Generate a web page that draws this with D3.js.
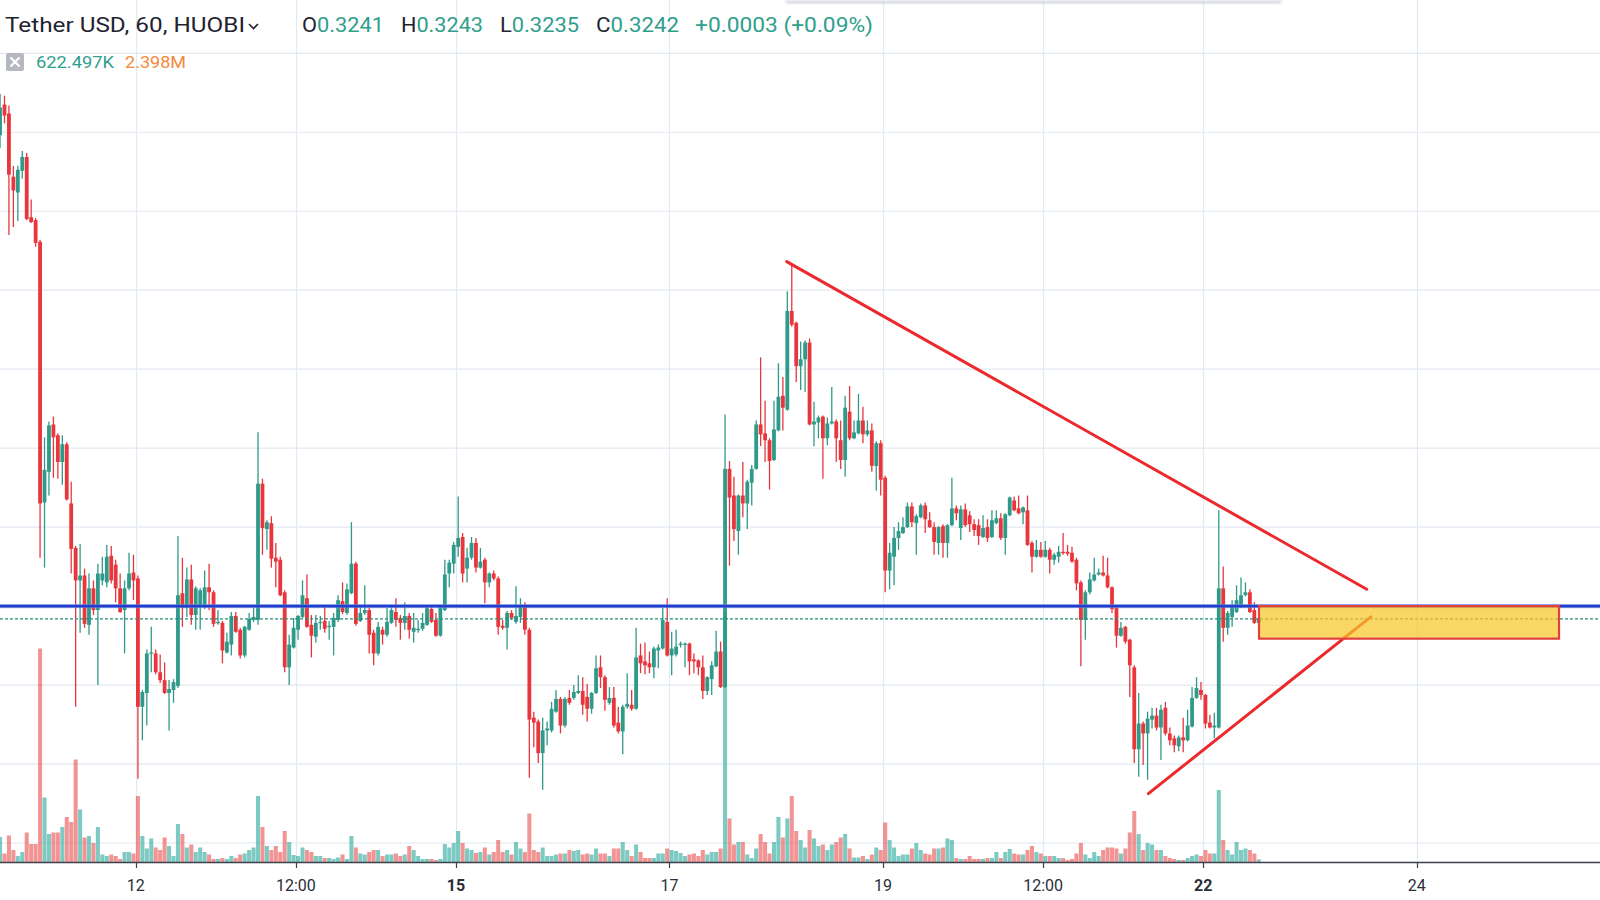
<!DOCTYPE html>
<html>
<head>
<meta charset="utf-8">
<script src="https://cdn.jsdelivr.net/npm/d3@7"></script>
<style>
html,body{margin:0;padding:0;background:#ffffff;overflow:hidden;}
svg{display:block;}
</style>
</head>
<body>
<svg id="chart" width="1600" height="900"></svg>
<script>
// ---------------- DATA ----------------
// Hourly candles, first candle opens 2019-11-10 17:00 UTC, one per hour.
const firstCandleTime = "2019-11-10T17:00:00Z";

const open = [
0.32717,0.32748,0.32739,0.32675,0.32659,0.32681,0.32695,0.32634,0.32631,0.32609,
0.32345,0.32376,0.32424,0.32413,0.32386,0.32404,0.32344,0.32299,0.32266,0.32271,
0.32221,0.32258,0.32236,0.32266,0.32264,0.32291,0.32282,0.32258,0.32236,0.32258,
0.32274,0.32268,0.32138,0.32152,0.32192,0.32192,0.32173,0.32165,0.32152,0.32155,
0.32159,0.32253,0.32238,0.32267,0.32231,0.32241,0.32239,0.32259,0.32254,0.32223,
0.32223,0.32193,0.32201,0.32230,0.32216,0.32190,0.32216,0.32226,0.32226,0.32364,
0.32318,0.32324,0.32289,0.32287,0.32254,0.32178,0.32198,0.32216,0.32229,0.32248,
0.32221,0.32209,0.32223,0.32225,0.32219,0.32219,0.32226,0.32245,0.32233,0.32253,
0.32283,0.32225,0.32233,0.32236,0.32213,0.32192,0.32216,0.32211,0.32223,0.32234,
0.32228,0.32223,0.32230,0.32214,0.32216,0.32217,0.32221,0.32237,0.32226,0.32210,
0.32236,0.32273,0.32283,0.32300,0.32310,0.32278,0.32289,0.32304,0.32279,0.32287,
0.32264,0.32273,0.32268,0.32220,0.32218,0.32233,0.32224,0.32229,0.32239,0.32216,
0.32127,0.32123,0.32091,0.32114,0.32114,0.32133,0.32146,0.32119,0.32147,0.32147,
0.32152,0.32154,0.32148,0.32136,0.32152,0.32178,0.32168,0.32142,0.32147,0.32122,
0.32113,0.32138,0.32140,0.32136,0.32190,0.32184,0.32182,0.32178,0.32195,0.32197,
0.32224,0.32190,0.32191,0.32201,0.32201,0.32202,0.32186,0.32185,0.32178,0.32154,
0.32166,0.32179,0.32194,0.32158,0.32379,0.32352,0.32316,0.32352,0.32344,0.32365,
0.32379,0.32424,0.32415,0.32408,0.32388,0.32418,0.32453,0.32439,0.32539,0.32527,
0.32483,0.32490,0.32507,0.32424,0.32426,0.32432,0.32410,0.32425,0.32427,0.32408,
0.32388,0.32437,0.32410,0.32415,0.32428,0.32414,0.32418,0.32382,0.32405,0.32370,
0.32276,0.32290,0.32309,0.32314,0.32320,0.32341,0.32324,0.32330,0.32342,0.32327,
0.32320,0.32304,0.32321,0.32304,0.32322,0.32339,0.32319,0.32338,0.32332,0.32323,
0.32322,0.32310,0.32320,0.32310,0.32324,0.32329,0.32309,0.32332,0.32347,0.32339,
0.32335,0.32337,0.32304,0.32290,0.32297,0.32290,0.32297,0.32287,0.32290,0.32295,
0.32295,0.32294,0.32287,0.32264,0.32226,0.32254,0.32266,0.32272,0.32274,0.32271,
0.32259,0.32238,0.32210,0.32219,0.32206,0.32178,0.32095,0.32121,0.32111,0.32125,
0.32129,0.32117,0.32137,0.32111,0.32106,0.32098,0.32107,0.32104,0.32118,0.32147,
0.32155,0.32150,0.32122,0.32117,0.32117,0.32258,0.32218,0.32229,0.32234,0.32239,
0.32251,0.32254,0.32236,0.32223
];

const high = [
0.32759,0.32757,0.32747,0.32686,0.32686,0.32701,0.32699,0.32652,0.32633,0.32611,
0.32411,0.32427,0.32432,0.32415,0.32413,0.32406,0.32366,0.32301,0.32303,0.32278,
0.32273,0.32266,0.32283,0.32290,0.32302,0.32301,0.32287,0.32273,0.32266,0.32294,
0.32292,0.32271,0.32155,0.32196,0.32219,0.32196,0.32191,0.32183,0.32165,0.32166,
0.32311,0.32289,0.32279,0.32282,0.32260,0.32258,0.32276,0.32283,0.32256,0.32236,
0.32225,0.32213,0.32234,0.32234,0.32218,0.32220,0.32233,0.32238,0.32416,0.32369,
0.32327,0.32331,0.32304,0.32290,0.32256,0.32211,0.32228,0.32231,0.32266,0.32272,
0.32231,0.32231,0.32230,0.32239,0.32225,0.32233,0.32251,0.32264,0.32263,0.32325,
0.32285,0.32240,0.32261,0.32238,0.32216,0.32224,0.32219,0.32238,0.32239,0.32248,
0.32231,0.32244,0.32233,0.32233,0.32226,0.32233,0.32239,0.32240,0.32233,0.32240,
0.32287,0.32287,0.32305,0.32351,0.32314,0.32299,0.32310,0.32309,0.32299,0.32289,
0.32274,0.32276,0.32270,0.32226,0.32235,0.32236,0.32260,0.32248,0.32244,0.32218,
0.32133,0.32125,0.32127,0.32123,0.32143,0.32155,0.32148,0.32148,0.32155,0.32160,
0.32170,0.32168,0.32161,0.32153,0.32190,0.32190,0.32170,0.32158,0.32158,0.32138,
0.32140,0.32172,0.32155,0.32218,0.32202,0.32203,0.32194,0.32199,0.32201,0.32238,
0.32248,0.32214,0.32216,0.32204,0.32203,0.32203,0.32192,0.32186,0.32190,0.32169,
0.32184,0.32215,0.32204,0.32434,0.32387,0.32371,0.32353,0.32386,0.32368,0.32383,
0.32428,0.32492,0.32448,0.32410,0.32448,0.32486,0.32472,0.32559,0.32586,0.32528,
0.32508,0.32509,0.32511,0.32447,0.32433,0.32433,0.32431,0.32462,0.32429,0.32428,
0.32453,0.32463,0.32428,0.32455,0.32442,0.32428,0.32425,0.32407,0.32408,0.32372,
0.32304,0.32320,0.32325,0.32330,0.32345,0.32345,0.32333,0.32344,0.32345,0.32335,
0.32325,0.32321,0.32323,0.32323,0.32370,0.32342,0.32342,0.32344,0.32336,0.32328,
0.32328,0.32332,0.32328,0.32337,0.32337,0.32334,0.32334,0.32351,0.32351,0.32352,
0.32341,0.32352,0.32306,0.32307,0.32305,0.32306,0.32299,0.32294,0.32301,0.32314,
0.32302,0.32300,0.32289,0.32266,0.32256,0.32274,0.32289,0.32278,0.32291,0.32289,
0.32260,0.32240,0.32224,0.32220,0.32207,0.32180,0.32152,0.32123,0.32133,0.32137,
0.32137,0.32140,0.32143,0.32117,0.32109,0.32109,0.32127,0.32135,0.32158,0.32168,
0.32163,0.32151,0.32130,0.32132,0.32337,0.32280,0.32235,0.32246,0.32261,0.32269,
0.32264,0.32257,0.32244,0.32232
];

const low = [
0.32704,0.32729,0.32616,0.32624,0.32630,0.32673,0.32631,0.32628,0.32604,0.32289,
0.32279,0.32352,0.32370,0.32369,0.32363,0.32347,0.32273,0.32138,0.32213,0.32218,
0.32211,0.32231,0.32160,0.32261,0.32259,0.32263,0.32244,0.32233,0.32192,0.32256,
0.32246,0.32065,0.32104,0.32119,0.32173,0.32171,0.32162,0.32151,0.32114,0.32142,
0.32157,0.32219,0.32229,0.32221,0.32216,0.32216,0.32237,0.32236,0.32219,0.32221,
0.32182,0.32192,0.32190,0.32213,0.32187,0.32188,0.32215,0.32224,0.32221,0.32292,
0.32297,0.32279,0.32259,0.32250,0.32173,0.32160,0.32197,0.32206,0.32228,0.32218,
0.32188,0.32203,0.32216,0.32213,0.32206,0.32190,0.32224,0.32232,0.32231,0.32252,
0.32220,0.32224,0.32231,0.32192,0.32180,0.32190,0.32201,0.32209,0.32222,0.32219,
0.32206,0.32216,0.32207,0.32203,0.32213,0.32215,0.32220,0.32223,0.32209,0.32209,
0.32235,0.32259,0.32273,0.32290,0.32264,0.32264,0.32287,0.32274,0.32278,0.32243,
0.32259,0.32266,0.32211,0.32216,0.32196,0.32226,0.32222,0.32223,0.32211,0.32066,
0.32097,0.32081,0.32054,0.32099,0.32112,0.32132,0.32111,0.32117,0.32140,0.32145,
0.32151,0.32130,0.32123,0.32131,0.32151,0.32157,0.32134,0.32140,0.32117,0.32111,
0.32090,0.32136,0.32134,0.32135,0.32172,0.32171,0.32172,0.32167,0.32177,0.32196,
0.32189,0.32170,0.32189,0.32198,0.32178,0.32170,0.32172,0.32170,0.32146,0.32150,
0.32150,0.32178,0.32157,0.32157,0.32281,0.32306,0.32292,0.32330,0.32318,0.32342,
0.32378,0.32402,0.32386,0.32358,0.32387,0.32417,0.32418,0.32438,0.32523,0.32467,
0.32459,0.32457,0.32423,0.32402,0.32410,0.32369,0.32403,0.32424,0.32386,0.32379,
0.32371,0.32408,0.32409,0.32414,0.32405,0.32412,0.32376,0.32357,0.32352,0.32254,
0.32257,0.32261,0.32297,0.32313,0.32319,0.32320,0.32292,0.32329,0.32314,0.32319,
0.32292,0.32292,0.32289,0.32289,0.32321,0.32327,0.32307,0.32320,0.32315,0.32311,
0.32302,0.32309,0.32305,0.32309,0.32323,0.32307,0.32292,0.32331,0.32336,0.32333,
0.32323,0.32301,0.32274,0.32289,0.32289,0.32289,0.32273,0.32282,0.32284,0.32292,
0.32291,0.32284,0.32256,0.32179,0.32206,0.32252,0.32265,0.32271,0.32270,0.32258,
0.32233,0.32198,0.32209,0.32202,0.32148,0.32081,0.32067,0.32079,0.32064,0.32116,
0.32114,0.32084,0.32109,0.32099,0.32092,0.32093,0.32092,0.32103,0.32117,0.32146,
0.32145,0.32116,0.32116,0.32106,0.32116,0.32204,0.32211,0.32219,0.32233,0.32238,
0.32250,0.32233,0.32222,0.32220
];

const close = [
0.32745,0.32737,0.32677,0.32661,0.32682,0.32695,0.32632,0.32629,0.32608,0.32344,
0.32378,0.32423,0.32411,0.32386,0.32404,0.32348,0.32298,0.32266,0.32271,0.32222,
0.32258,0.32236,0.32273,0.32273,0.32290,0.32266,0.32258,0.32234,0.32258,0.32273,
0.32266,0.32138,0.32153,0.32192,0.32193,0.32173,0.32165,0.32152,0.32156,0.32163,
0.32251,0.32238,0.32267,0.32231,0.32258,0.32256,0.32259,0.32254,0.32222,0.32224,
0.32195,0.32204,0.32230,0.32214,0.32190,0.32219,0.32227,0.32229,0.32364,0.32319,
0.32325,0.32288,0.32285,0.32251,0.32178,0.32201,0.32218,0.32230,0.32251,0.32219,
0.32210,0.32223,0.32224,0.32217,0.32220,0.32228,0.32246,0.32234,0.32257,0.32283,
0.32222,0.32233,0.32236,0.32211,0.32192,0.32219,0.32211,0.32224,0.32236,0.32226,
0.32223,0.32230,0.32216,0.32218,0.32217,0.32223,0.32238,0.32224,0.32210,0.32239,
0.32272,0.32284,0.32302,0.32309,0.32273,0.32289,0.32304,0.32279,0.32285,0.32264,
0.32273,0.32268,0.32219,0.32218,0.32233,0.32228,0.32230,0.32239,0.32216,0.32125,
0.32122,0.32091,0.32114,0.32116,0.32136,0.32146,0.32119,0.32146,0.32142,0.32153,
0.32154,0.32140,0.32136,0.32152,0.32177,0.32168,0.32145,0.32147,0.32119,0.32113,
0.32138,0.32141,0.32136,0.32188,0.32182,0.32180,0.32178,0.32197,0.32198,0.32226,
0.32190,0.32197,0.32199,0.32202,0.32202,0.32184,0.32184,0.32178,0.32154,0.32168,
0.32180,0.32194,0.32158,0.32379,0.32350,0.32318,0.32352,0.32344,0.32366,0.32379,
0.32424,0.32414,0.32408,0.32387,0.32419,0.32452,0.32441,0.32539,0.32525,0.32483,
0.32490,0.32507,0.32424,0.32427,0.32431,0.32410,0.32425,0.32427,0.32410,0.32388,
0.32441,0.32410,0.32416,0.32428,0.32414,0.32418,0.32382,0.32405,0.32368,0.32276,
0.32294,0.32309,0.32316,0.32320,0.32341,0.32325,0.32331,0.32342,0.32328,0.32320,
0.32305,0.32320,0.32304,0.32322,0.32339,0.32334,0.32338,0.32322,0.32323,0.32317,
0.32311,0.32319,0.32309,0.32327,0.32329,0.32309,0.32333,0.32350,0.32337,0.32334,
0.32340,0.32302,0.32290,0.32297,0.32290,0.32297,0.32287,0.32292,0.32295,0.32294,
0.32293,0.32285,0.32263,0.32226,0.32254,0.32267,0.32272,0.32274,0.32271,0.32259,
0.32237,0.32210,0.32218,0.32204,0.32180,0.32095,0.32121,0.32111,0.32126,0.32129,
0.32117,0.32135,0.32111,0.32104,0.32099,0.32107,0.32104,0.32119,0.32147,0.32157,
0.32150,0.32121,0.32117,0.32119,0.32258,0.32218,0.32233,0.32241,0.32246,0.32251,
0.32254,0.32234,0.32223,0.32227
];

// volume in millions
const volume = [
5.1,1.8,5.4,2.5,1.3,2.1,6.0,3.7,3.7,42.8,
13.0,5.7,6.0,6.0,7.1,9.1,8.1,20.6,10.6,5.0,
5.3,3.9,7.1,1.6,1.3,1.6,1.3,0.7,2.1,2.1,
1.8,13.3,5.3,2.8,4.8,3.0,2.5,5.0,3.3,1.3,
7.7,5.7,3.0,3.6,2.1,3.0,2.1,1.6,0.7,0.7,
0.9,0.7,1.3,0.9,1.6,1.8,2.5,3.0,13.3,7.1,
3.3,2.5,3.3,2.1,6.3,4.1,1.5,1.3,3.0,2.5,
2.1,1.3,1.3,0.9,0.9,0.7,1.0,1.6,0.7,5.3,
3.0,1.8,1.6,2.1,2.5,2.5,1.3,1.6,1.6,1.8,
1.3,1.6,3.3,2.5,1.3,0.7,0.7,0.7,0.5,0.7,
3.7,3.0,3.9,6.3,3.9,2.8,2.5,1.9,2.1,3.0,
1.6,2.1,4.5,2.1,2.5,1.6,4.1,2.8,2.1,9.8,
2.5,2.1,3.0,1.3,1.3,1.6,1.8,1.8,2.5,2.3,
2.5,1.6,1.8,1.6,2.8,1.8,1.8,1.3,2.8,2.8,
4.1,2.5,1.3,3.6,2.1,0.9,0.9,0.9,1.8,1.8,
2.8,2.5,2.3,1.9,1.3,1.6,1.8,1.3,2.5,1.6,
2.1,2.1,2.8,50.0,8.8,3.6,4.1,4.1,1.6,0.9,
2.8,5.7,4.1,1.8,4.1,9.1,5.0,8.8,13.3,6.3,
4.5,3.0,6.5,4.8,3.3,3.6,2.5,3.6,4.1,5.0,
5.7,2.8,1.0,1.0,1.3,0.7,1.6,3.0,2.5,8.0,
4.5,3.0,1.3,1.6,1.6,2.8,3.9,2.5,1.8,1.6,
2.8,2.8,3.0,4.8,4.5,0.9,0.7,0.7,1.3,0.7,
0.7,0.7,0.9,0.9,2.1,0.9,2.1,2.7,1.8,1.6,
1.6,2.5,3.3,2.1,1.8,1.3,1.3,1.3,0.9,0.9,
0.5,0.7,1.8,3.9,1.6,0.9,2.1,1.3,2.5,3.0,
3.0,2.8,1.8,2.8,6.0,10.3,5.7,2.5,3.9,3.6,
2.5,2.5,1.3,0.9,0.7,0.5,0.5,0.9,1.3,1.6,
1.3,2.5,1.8,1.8,14.5,4.5,2.5,1.6,4.1,2.5,
2.8,2.5,1.8,0.62
];

// axes
const timeTicks = ["2019-11-12T00:00:00Z","2019-11-13T12:00:00Z","2019-11-15T00:00:00Z","2019-11-17T00:00:00Z",
                   "2019-11-19T00:00:00Z","2019-11-20T12:00:00Z","2019-11-22T00:00:00Z","2019-11-24T00:00:00Z"];
const timeTickLabels = ["12","12:00","15","17","19","12:00","22","24"];
const boldTickLabels = ["15","22"];
const priceTicks = [0.3200,0.3208,0.3216,0.3224,0.3232,0.3240,0.3248,0.3256,0.3264,0.3272,0.3280];

// drawings
const horizontalLevel = 0.3224;
const trendDown = [["2019-11-18T02:22:00Z",0.32589],["2019-11-23T12:46:00Z",0.32257]];
const trendUp   = [["2019-11-21T11:40:00Z",0.32050],["2019-11-23T13:40:00Z",0.32229]];
const zone = {from:"2019-11-22T12:33:00Z", to:"2019-11-25T08:00:00Z", top:0.32240, bottom:0.32207};

// header texts
const titleText = "Tether USD, 60, HUOBI";
const ohlcLabels = ["O","H","L","C"];
const ohlcValues = ["0.3241","0.3243","0.3235","0.3242"];
const changeText = "+0.0003 (+0.09%)";
const volumeTexts = ["622.497K","2.398M"];

// ---------------- CHART ----------------
if (![high,low,close,volume].every(a => a.length === open.length)) console.error("length mismatch", open.length, high.length, low.length, close.length, volume.length);

const W = 1600, H = 900;
const axisY = 862.5;
const svg = d3.select("#chart");
const FONT = "Roboto, 'Open Sans', 'Liberation Sans', sans-serif";

const startMs = Date.parse(firstCandleTime);
const HOUR = 3600e3;
const candles = open.map((o, i) => ({
  date: new Date(startMs + i * HOUR),
  open: o, high: high[i], low: low[i], close: close[i], volume: volume[i]
}));

const x = d3.scaleUtc()
  .domain([new Date("2019-11-12T00:00:00Z"), new Date("2019-11-24T00:00:00Z")])
  .range([135.7, 1416.7]);
const y = d3.scaleLinear().domain([0.3200, 0.3280]).range([843, 53.3]);
const yv = d3.scaleLinear().domain([0, 50]).range([axisY, axisY - 250]);

const cx = d => x(new Date(d.date.getTime() + HOUR / 2));
const upCol = "#2f9a89", downCol = "#e8363c";
const upVol = "rgba(38,166,154,0.6)", downVol = "rgba(232,60,60,0.55)";
const isUp = d => d.close >= d.open;

const defs = svg.append("defs");
defs.append("clipPath").attr("id","plot").append("rect").attr("x",0).attr("y",0).attr("width",W).attr("height",axisY);
const shadow = defs.append("filter").attr("id","sh").attr("x","-5%").attr("y","-200%").attr("width","110%").attr("height","500%");
shadow.append("feGaussianBlur").attr("stdDeviation",1.5);

// grid
const grid = svg.append("g").attr("stroke","#e1e9f1").attr("stroke-width",1.2);
grid.selectAll("line.v").data(timeTicks).join("line")
  .attr("x1", d => Math.round(x(new Date(d))) + 0.5).attr("x2", d => Math.round(x(new Date(d))) + 0.5)
  .attr("y1", 0).attr("y2", axisY);
grid.selectAll("line.h").data(priceTicks).join("line")
  .attr("x1", 0).attr("x2", W)
  .attr("y1", d => y(d)).attr("y2", d => y(d));

const plot = svg.append("g").attr("clip-path","url(#plot)");

// volume
const barStep = x(new Date(startMs + HOUR)) - x(new Date(startMs));
plot.append("g").selectAll("rect").data(candles).join("rect")
  .attr("x", d => cx(d) - barStep / 2 + 0.2)
  .attr("width", barStep - 0.4)
  .attr("y", d => yv(d.volume))
  .attr("height", d => axisY - yv(d.volume))
  .attr("fill", d => isUp(d) ? upVol : downVol);

// candles
const bw = 3.8;
const cg = plot.append("g");
cg.selectAll("line").data(candles).join("line")
  .attr("x1", cx).attr("x2", cx)
  .attr("y1", d => y(d.high)).attr("y2", d => y(d.low))
  .attr("stroke", d => isUp(d) ? upCol : downCol).attr("stroke-width", 1.3);
cg.selectAll("rect").data(candles).join("rect")
  .attr("x", d => cx(d) - bw / 2).attr("width", bw)
  .attr("y", d => y(Math.max(d.open, d.close)))
  .attr("height", d => Math.max(1.3, Math.abs(y(d.open) - y(d.close))))
  .attr("fill", d => isUp(d) ? upCol : downCol);

// last price dashed line
const last = candles[candles.length - 1];
svg.append("line").attr("x1",0).attr("x2",W).attr("y1",y(last.close)).attr("y2",y(last.close))
  .attr("stroke", isUp(last) ? "#2a8c7c" : downCol).attr("stroke-width",1.1).attr("stroke-dasharray","3,2");

// horizontal level
svg.append("line").attr("x1",0).attr("x2",W).attr("y1",y(horizontalLevel)).attr("y2",y(horizontalLevel))
  .attr("stroke","#8aa0ef").attr("stroke-width",4.4).attr("opacity",0.6);
svg.append("line").attr("x1",0).attr("x2",W).attr("y1",y(horizontalLevel)).attr("y2",y(horizontalLevel))
  .attr("stroke","#1f3fcc").attr("stroke-width",2.6);

// trend lines
const lineGen = d3.line().x(d => x(new Date(d[0]))).y(d => y(d[1]));
[trendDown, trendUp].forEach(tl => {
  svg.append("path").attr("d", lineGen(tl)).attr("fill","none")
    .attr("stroke","#ec2a2d").attr("stroke-width",3).attr("stroke-linecap","round");
});

// zone rectangle
svg.append("rect")
  .attr("x", x(new Date(zone.from))).attr("y", y(zone.top))
  .attr("width", x(new Date(zone.to)) - x(new Date(zone.from)))
  .attr("height", y(zone.bottom) - y(zone.top))
  .attr("fill","rgba(248,198,40,0.72)").attr("stroke","#e2403f").attr("stroke-width",2.2);

// top toolbar shadow
svg.append("rect").attr("x",786).attr("y",-4).attr("width",495).attr("height",7).attr("fill","#c9ccd3").attr("filter","url(#sh)");
svg.append("rect").attr("x",786).attr("y",-4).attr("width",495).attr("height",5.5).attr("fill","#eceef2");

// x axis
svg.append("line").attr("x1",0).attr("x2",W).attr("y1",axisY).attr("y2",axisY)
  .attr("stroke","#3d414c").attr("stroke-width",1.6);
const ax = svg.append("g");
ax.selectAll("line").data(timeTicks).join("line")
  .attr("x1", d => Math.round(x(new Date(d))) + 0.5).attr("x2", d => Math.round(x(new Date(d))) + 0.5)
  .attr("y1", axisY).attr("y2", axisY + 5.5).attr("stroke","#3d414c").attr("stroke-width",1.2);
ax.selectAll("text").data(timeTicks).join("text")
  .attr("x", d => x(new Date(d))).attr("y", 891)
  .attr("text-anchor","middle").attr("font-family",FONT).attr("font-size",16)
  .attr("font-weight", (d,i) => boldTickLabels.includes(timeTickLabels[i]) ? 700 : 400)
  .attr("fill","#2a2e39")
  .text((d,i) => timeTickLabels[i]);

// header
const hdr = svg.append("g").attr("font-family",FONT);
hdr.append("text").attr("x",5).attr("y",32).attr("font-size",20.5).attr("fill","#1f2330")
  .attr("textLength",240).attr("lengthAdjust","spacingAndGlyphs").text(titleText);
hdr.append("path").attr("d","M249,24 L253.5,28.5 L258,24").attr("fill","none").attr("stroke","#1f2330").attr("stroke-width",1.6);
const ohlcX = [302, 401, 500, 596];
const ohlcW = [82, 82, 79, 83];
ohlcLabels.forEach((lab, i) => {
  const t = hdr.append("text").attr("x", ohlcX[i]).attr("y", 32).attr("font-size", 20.5)
    .attr("textLength", ohlcW[i]).attr("lengthAdjust","spacingAndGlyphs");
  t.append("tspan").attr("fill","#1f2330").text(lab);
  t.append("tspan").attr("fill","#2f9e8c").text(ohlcValues[i]);
});
hdr.append("text").attr("x",695).attr("y",32).attr("font-size",20.5).attr("fill","#2f9e8c")
  .attr("textLength",178).attr("lengthAdjust","spacingAndGlyphs").text(changeText);

// volume legend row
hdr.append("rect").attr("x",6).attr("y",53).attr("width",18).attr("height",18).attr("rx",2).attr("fill","#b5b8c0");
hdr.append("path").attr("d","M10.5,57.5 L19.5,66.5 M19.5,57.5 L10.5,66.5").attr("stroke","#ffffff").attr("stroke-width",2.2);
hdr.append("text").attr("x",36).attr("y",68).attr("font-size",16.5).attr("fill","#2f9e8c")
  .attr("textLength",78).attr("lengthAdjust","spacingAndGlyphs").text(volumeTexts[0]);
hdr.append("text").attr("x",125).attr("y",68).attr("font-size",16.5).attr("fill","#f5883b")
  .attr("textLength",61).attr("lengthAdjust","spacingAndGlyphs").text(volumeTexts[1]);
</script>
</body>
</html>
